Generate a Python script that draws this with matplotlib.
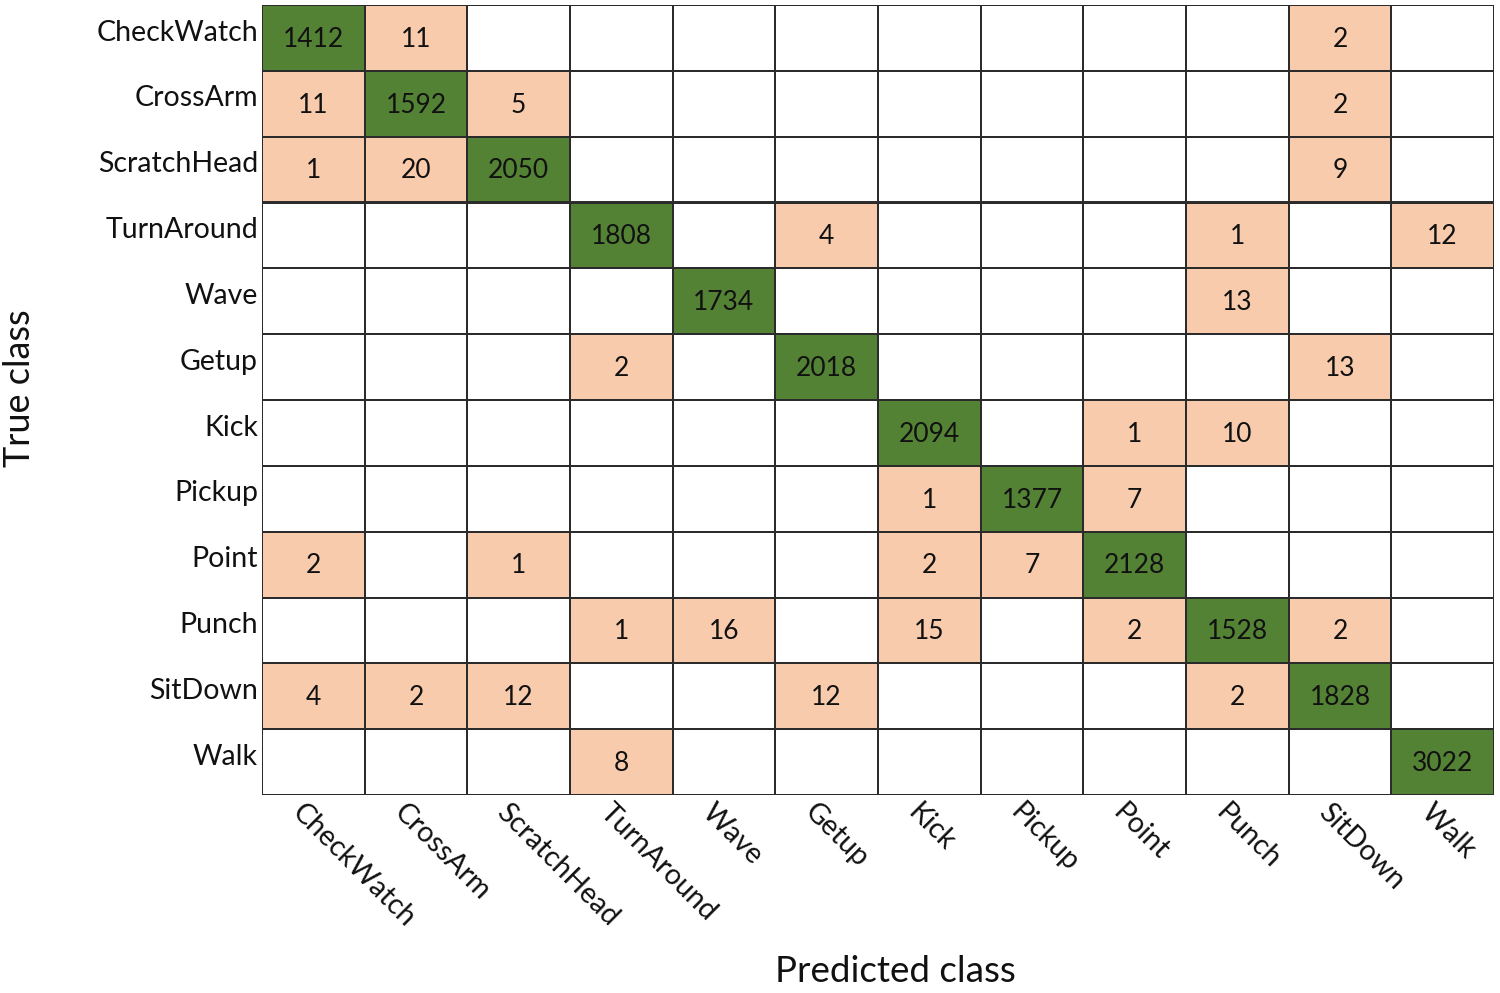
import matplotlib
matplotlib.use("Agg")
import matplotlib.pyplot as plt
import numpy as np

classes = ["CheckWatch", "CrossArm", "ScratchHead", "TurnAround", "Wave", "Getup",
           "Kick", "Pickup", "Point", "Punch", "SitDown", "Walk"]

row_checkwatch  = [1412, 11, 0, 0, 0, 0, 0, 0, 0, 0, 2, 0]
row_crossarm    = [11, 1592, 5, 0, 0, 0, 0, 0, 0, 0, 2, 0]
row_scratchhead = [1, 20, 2050, 0, 0, 0, 0, 0, 0, 0, 9, 0]
row_turnaround  = [0, 0, 0, 1808, 0, 4, 0, 0, 0, 1, 0, 12]
row_wave        = [0, 0, 0, 0, 1734, 0, 0, 0, 0, 13, 0, 0]
row_getup       = [0, 0, 0, 2, 0, 2018, 0, 0, 0, 0, 13, 0]
row_kick        = [0, 0, 0, 0, 0, 0, 2094, 0, 1, 10, 0, 0]
row_pickup      = [0, 0, 0, 0, 0, 0, 1, 1377, 7, 0, 0, 0]
row_point       = [2, 0, 1, 0, 0, 0, 2, 7, 2128, 0, 0, 0]
row_punch       = [0, 0, 0, 1, 16, 0, 15, 0, 2, 1528, 2, 0]
row_sitdown     = [4, 2, 12, 0, 0, 12, 0, 0, 0, 2, 1828, 0]
row_walk        = [0, 0, 0, 8, 0, 0, 0, 0, 0, 0, 0, 3022]

matrix = np.array([row_checkwatch, row_crossarm, row_scratchhead, row_turnaround,
                   row_wave, row_getup, row_kick, row_pickup, row_point,
                   row_punch, row_sitdown, row_walk])

GREEN = "#548235"
PEACH = "#F8CBAD"
LINE = "#2b2b2b"
FONT = "Lato"

n = len(classes)
fig = plt.figure(figsize=(15, 9.93), dpi=100)
ax = fig.add_axes([262/1500, 1 - 795/993, (1494-262)/1500, (795-5)/993])
ax.set_xlim(0, n)
ax.set_ylim(n, 0)

for i in range(n):
    for j in range(n):
        v = matrix[i, j]
        if v == 0:
            color = "white"
        elif i == j:
            color = GREEN
        else:
            color = PEACH
        ax.add_patch(plt.Rectangle((j, i), 1, 1, facecolor=color,
                                   edgecolor=LINE, linewidth=1.4))
        if v != 0:
            ax.text(j + 0.5, i + 0.52, str(v), ha="center", va="center",
                    fontsize=19, family=FONT, color="#111111")

for k in range(n + 1):
    ax.axhline(k, color=LINE, linewidth=1.4)
    ax.axvline(k, color=LINE, linewidth=1.4)

ax.set_xticks([])
ax.set_yticks([])
for s in ax.spines.values():
    s.set_visible(False)

for i, name in enumerate(classes):
    ax.text(-0.04, i + 0.42, name, ha="right", va="center", fontsize=20.5,
            family=FONT, color="#111111")
    ax.text(i + 0.42, n + 0.06, name, ha="left", va="top", rotation=-45,
            rotation_mode="anchor", fontsize=20.5, family=FONT, color="#111111")

fig.text(20/1500, 1 - 388/993, "True class", rotation=90, ha="center",
         va="center", fontsize=26, family=FONT, color="#111111")
fig.text(895/1500, 1 - 972/993, "Predicted class", ha="center", va="center",
         fontsize=26.5, family=FONT, color="#111111")

fig.savefig("out.png", dpi=100, facecolor="white")
